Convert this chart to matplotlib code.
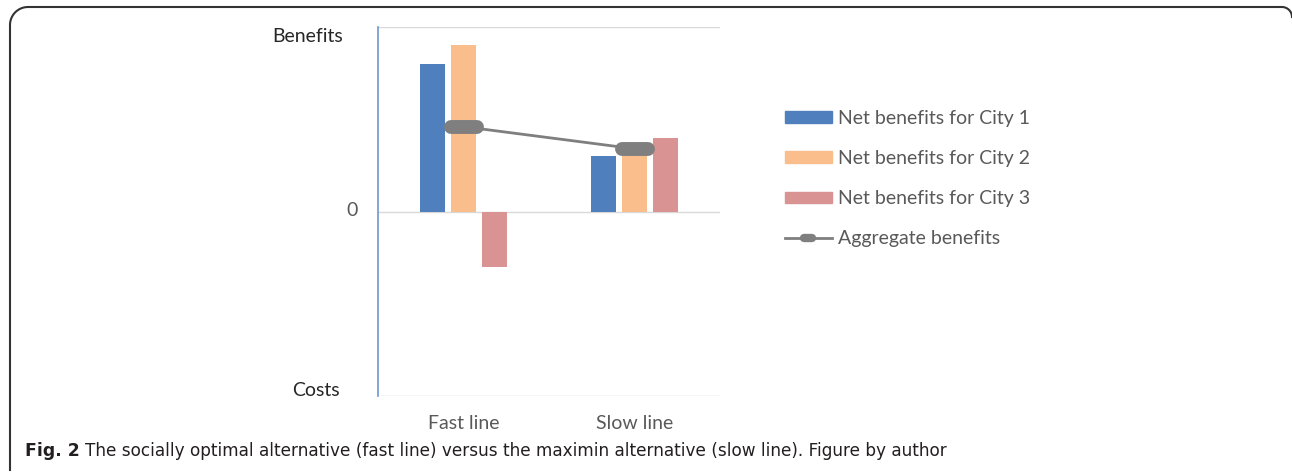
import matplotlib
matplotlib.use('Agg')
import matplotlib.pyplot as plt
from matplotlib.markers import MarkerStyle
from matplotlib.patches import Patch
from matplotlib.lines import Line2D
import numpy as np

plt.rcParams['font.family'] = ['Lato', 'DejaVu Sans']

categories = ['Fast line', 'Slow line']
series_names = ['Net benefits for City 1', 'Net benefits for City 2', 'Net benefits for City 3']
city1 = [0.80, 0.30]
city2 = [0.90, 0.32]
city3 = [-0.30, 0.40]
aggregate = [0.46, 0.34]
agg_name = 'Aggregate benefits'

colors = ['#4f7fbd', '#f9be8b', '#d99392']
W, H = 1292, 474
fs = 14

fig = plt.figure(figsize=(W / 100, H / 100), dpi=100)
ax = fig.add_axes([378 / W, 1 - 396 / H, (720 - 378) / W, (396 - 27) / H])

x = np.arange(len(categories))
bw = 0.146
off = 0.184
for i, vals in enumerate([city1, city2, city3]):
    ax.bar(x + (i - 1) * off, vals, width=bw, color=colors[i], zorder=2)

dash = MarkerStyle('_', capstyle='round')
ax.plot(x, aggregate, color='#7f7f7f', lw=2, marker=dash, ms=19, mew=10, zorder=3)

ax.set_xlim(-0.5, 1.5)
ax.set_ylim(-1, 1)
for yv in [-1, 0, 1]:
    ax.axhline(yv, color='#d9d9d9', lw=1, zorder=1)
for s in ['top', 'right', 'bottom']:
    ax.spines[s].set_visible(False)
ax.spines['left'].set_color('#6d97d2')
ax.spines['left'].set_linewidth(1.2)
ax.set_xticks([])
ax.set_yticks([])

# category labels
for xi, c in zip(x, categories):
    ax.text(xi, -1.15, c, ha='center', va='center', fontsize=fs, color='#595959')

# y labels
fig.text(343 / W, 1 - 36 / H, 'Benefits', ha='right', va='center', fontsize=fs, color='#262626')
fig.text(358 / W, 1 - 211 / H, '0', ha='right', va='center', fontsize=fs, color='#595959')
fig.text(340 / W, 1 - 391 / H, 'Costs', ha='right', va='center', fontsize=fs, color='#262626')

# legend
handles = [Patch(color=c) for c in colors]
handles.append(Line2D([], [], color='#7f7f7f', lw=2, marker=dash, ms=6, mew=6))
leg = fig.legend(handles, series_names + [agg_name], loc='upper left',
                 bbox_to_anchor=(785 / W, 1 - 110 / H), frameon=False,
                 fontsize=fs, handlelength=2.4, handleheight=0.55,
                 handletextpad=0.3, labelspacing=1.19, labelcolor='#595959',
                 borderpad=0, borderaxespad=0)

# caption
cap_font = ['DejaVu Sans']
t1 = fig.text(25 / W, 1 - 451 / H, 'Fig. 2', fontweight='bold', fontsize=12.4,
              family=cap_font, va='center', color='#231f20')
fig.canvas.draw()
bb = t1.get_window_extent()
fig.text((bb.x1 + 5) / W, 1 - 451 / H,
         'The socially optimal alternative (fast line) versus the maximin alternative (slow line). Figure by author',
         fontsize=12.2, family=cap_font, va='center', color='#231f20')

# rounded border (left + top)
r = 18
th = np.linspace(np.pi, np.pi / 2, 20)
bx = np.concatenate([[10], 10 + r + r * np.cos(th), [1282], 1282 + 10 * np.cos(np.linspace(np.pi / 2, 0, 10))])
by = np.concatenate([[470], 7 + r - r * np.sin(th), [7], 7 + 10 - 10 * np.sin(np.linspace(np.pi / 2, 0, 10))])
fig.add_artist(Line2D(bx / W, 1 - by / H, color='#333333', lw=1.5, transform=fig.transFigure))

fig.savefig('out.png', dpi=100)
